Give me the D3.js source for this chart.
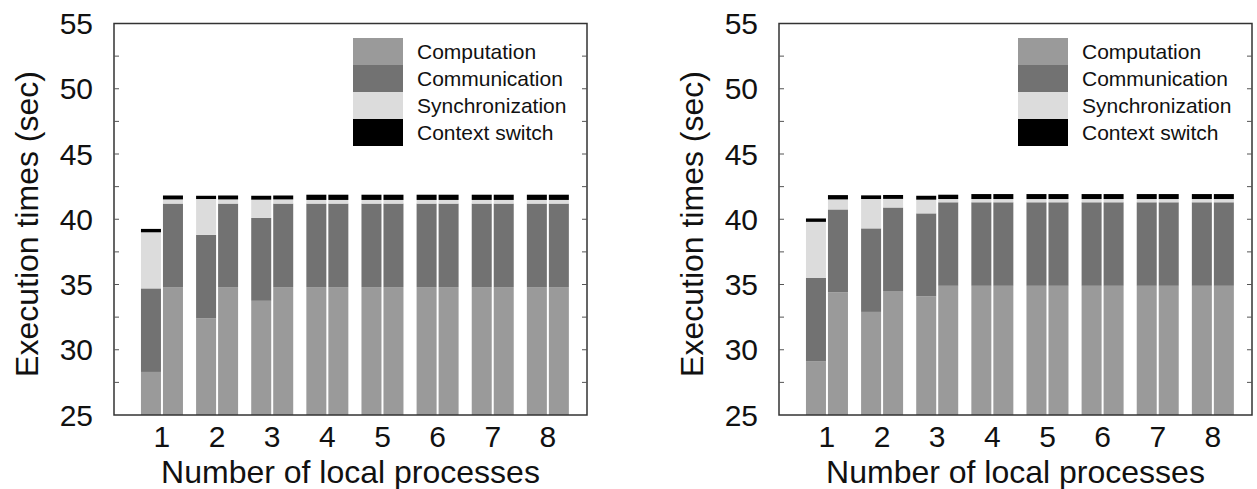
<!DOCTYPE html>
<html>
<head>
<meta charset="utf-8">
<script src="https://cdnjs.cloudflare.com/ajax/libs/d3/7.8.5/d3.min.js"></script>
<style>
  body { margin: 0; background: #fff; }
  text { font-family: "Liberation Sans", Arial, sans-serif; fill: #111; }
</style>
</head>
<body>
<div id="chart"></div>
<script>
var processes = [1, 2, 3, 4, 5, 6, 7, 8];
var parts = ["Computation", "Communication", "Synchronization", "Context switch"];
var partColors = ["#9a9a9a", "#727272", "#dcdcdc", "#000000"];
var yTicks = [25, 30, 35, 40, 45, 50, 55];

// left chart, first bar of each pair
var leftAComp = [28.3, 32.4, 33.75, 34.8, 34.8, 34.8, 34.8, 34.8];
var leftAComm = [6.4, 6.4, 6.35, 6.4, 6.4, 6.4, 6.4, 6.4];
var leftASync = [4.3, 2.75, 1.4, 0.28, 0.28, 0.28, 0.28, 0.28];
var leftACtx  = [0.26, 0.25, 0.3, 0.4, 0.4, 0.4, 0.4, 0.4];
// left chart, second bar
var leftBComp = [34.8, 34.8, 34.8, 34.8, 34.8, 34.8, 34.8, 34.8];
var leftBComm = [6.4, 6.4, 6.4, 6.4, 6.4, 6.4, 6.4, 6.4];
var leftBSync = [0.32, 0.32, 0.32, 0.28, 0.28, 0.28, 0.28, 0.28];
var leftBCtx  = [0.3, 0.3, 0.3, 0.4, 0.4, 0.4, 0.4, 0.4];

// right chart, first bar of each pair
var rightAComp = [29.1, 32.9, 34.1, 34.9, 34.9, 34.9, 34.9, 34.9];
var rightAComm = [6.4, 6.4, 6.35, 6.4, 6.4, 6.4, 6.4, 6.4];
var rightASync = [4.3, 2.25, 1.05, 0.25, 0.25, 0.25, 0.25, 0.25];
var rightACtx  = [0.26, 0.28, 0.3, 0.38, 0.38, 0.38, 0.38, 0.38];
// right chart, second bar
var rightBComp = [34.4, 34.5, 34.9, 34.9, 34.9, 34.9, 34.9, 34.9];
var rightBComm = [6.35, 6.4, 6.4, 6.4, 6.4, 6.4, 6.4, 6.4];
var rightBSync = [0.77, 0.66, 0.25, 0.25, 0.25, 0.25, 0.25, 0.25];
var rightBCtx  = [0.33, 0.3, 0.33, 0.38, 0.38, 0.38, 0.38, 0.38];

var width = 1257, height = 489;
var plotW = 473, plotTop = 23.5, plotBottom = 415;

var svg = d3.select("#chart").append("svg")
  .attr("width", width)
  .attr("height", height);

function makeRows(comp, comm, sync, ctx) {
  return processes.map(function(p, i) {
    return { p: p, Computation: comp[i], Communication: comm[i], Synchronization: sync[i], "Context switch": ctx[i] };
  });
}

function drawPanel(left, rowsA, rowsB) {
  var g = svg.append("g").attr("transform", "translate(" + left + ",0)");

  var x = d3.scaleLinear().domain([0.13, 8.71]).range([0, plotW]);
  var y = d3.scaleLinear().domain([25, 55]).range([plotBottom, plotTop]);
  var stack = d3.stack().keys(parts);

  // side -1 = first bar of the pair, +1 = second bar
  [[rowsA, -1], [rowsB, 1]].forEach(function(pair) {
    var series = stack(pair[0]);
    var side = pair[1];
    g.append("g").selectAll("g")
      .data(series)
      .enter().append("g")
      .attr("fill", function(d, i) { return partColors[i]; })
      .selectAll("rect")
      .data(function(d) { return d; })
      .enter().append("rect")
      .attr("x", function(d) { return side < 0 ? x(d.data.p) - 21 : x(d.data.p) + 1; })
      .attr("width", 20)
      .attr("y", function(d) { return y(d[1]); })
      // axis starts at 25, so the computation part is cut there
      .attr("height", function(d) { return y(Math.max(d[0], 25)) - y(d[1]); });
  });

  // frame
  g.append("rect")
    .attr("x", 0).attr("y", plotTop)
    .attr("width", plotW).attr("height", plotBottom - plotTop)
    .attr("fill", "none").attr("stroke", "#333").attr("stroke-width", 1.5);

  // inner ticks on both sides, every 2.5
  var minor = d3.range(27.5, 55, 2.5);
  g.selectAll(".tl").data(minor).enter().append("line")
    .attr("x1", 0).attr("x2", 5)
    .attr("y1", function(d) { return y(d); }).attr("y2", function(d) { return y(d); })
    .attr("stroke", "#555").attr("stroke-width", 1);
  g.selectAll(".tr").data(minor).enter().append("line")
    .attr("x1", plotW - 5).attr("x2", plotW)
    .attr("y1", function(d) { return y(d); }).attr("y2", function(d) { return y(d); })
    .attr("stroke", "#555").attr("stroke-width", 1);

  g.selectAll(".ylab").data(yTicks).enter().append("text")
    .attr("x", -21)
    .attr("y", function(d) { return y(d); })
    .attr("dy", "0.35em")
    .attr("text-anchor", "end")
    .style("font-size", "30px")
    .text(function(d) { return d; });

  g.selectAll(".xlab").data(processes).enter().append("text")
    .attr("x", function(d) { return x(d); })
    .attr("y", 447)
    .attr("text-anchor", "middle")
    .style("font-size", "30px")
    .text(function(d) { return d; });

  g.append("text")
    .attr("x", plotW / 2)
    .attr("y", 483)
    .attr("text-anchor", "middle")
    .style("font-size", "32px")
    .text("Number of local processes");

  g.append("text")
    .attr("transform", "translate(-76,224) rotate(-90)")
    .attr("text-anchor", "middle")
    .style("font-size", "32px")
    .text("Execution times (sec)");

  // legend
  var lg = g.append("g").attr("transform", "translate(239,38)");
  lg.selectAll("rect").data(parts).enter().append("rect")
    .attr("x", 0)
    .attr("y", function(d, i) { return i * 27; })
    .attr("width", 50).attr("height", 27)
    .attr("fill", function(d, i) { return partColors[i]; });
  lg.selectAll("text").data(parts).enter().append("text")
    .attr("x", 64)
    .attr("y", function(d, i) { return i * 27 + 13.5; })
    .attr("dy", "0.35em")
    .style("font-size", "21px")
    .text(function(d) { return d; });
}

drawPanel(114, makeRows(leftAComp, leftAComm, leftASync, leftACtx), makeRows(leftBComp, leftBComm, leftBSync, leftBCtx));
drawPanel(779, makeRows(rightAComp, rightAComm, rightASync, rightACtx), makeRows(rightBComp, rightBComm, rightBSync, rightBCtx));
</script>
</body>
</html>
